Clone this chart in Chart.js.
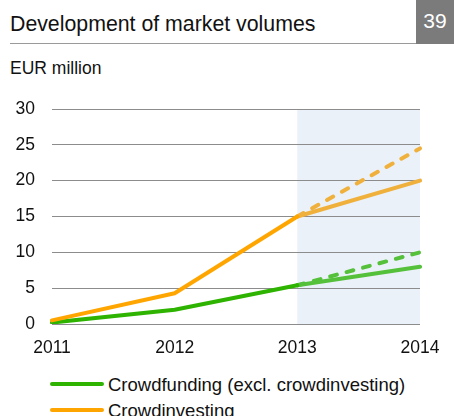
<!DOCTYPE html>
<html>
<head>
<meta charset="utf-8">
<script src="https://cdn.jsdelivr.net/npm/chart.js@4"></script>
<style>
  html, body { margin: 0; padding: 0; background: #fff; }
  body { width: 454px; height: 416px; position: relative; overflow: hidden;
         font-family: "Liberation Sans", Arial, sans-serif; color: #111; }
  #title { position: absolute; left: 10px; top: 12px; font-size: 21.3px; line-height: 24px; white-space: nowrap; }
  #rule { position: absolute; left: 10px; top: 43px; width: 406px; height: 1px; background: #9a9a9a; }
  #page { position: absolute; left: 416px; top: 0; width: 38px; height: 44px; background: #7b7b7b;
          color: #fff; font-size: 21px; line-height: 41px; text-align: center; }
  #unit { position: absolute; left: 10px; top: 58px; font-size: 17.5px; line-height: 20px; }
  #wrap { position: absolute; left: 0; top: 90px; width: 454px; height: 270px; }
  .key { position: absolute; left: 50px; font-size: 18.5px; height: 22px; line-height: 22px; }
  .key i { position: absolute; left: 0; top: 8px; width: 54px; height: 4px; border-radius: 2px; }
  .key span { position: absolute; left: 58px; white-space: nowrap; }
</style>
</head>
<body>
<div id="title">Development of market volumes</div>
<div id="rule"></div>
<div id="page">39</div>
<div id="unit">EUR million</div>
<div id="wrap"><canvas id="myChart"></canvas></div>
<div class="key" style="top:374px"><i style="background:#2eb400"></i><span>Crowdfunding (excl. crowdinvesting)</span></div>
<div class="key" style="top:400px"><i style="background:#ffa500"></i><span>Crowdinvesting</span></div>

<script>
const years = ['2011', '2012', '2013', '2014'];
const yTicks = [0, 5, 10, 15, 20, 25, 30];

// actual volumes 2011-2013
const crowdfunding = [0.2, 2.0, 5.4];
const crowdinvesting = [0.5, 4.3, 15.0];

// 2014 forecast: [base, high]
const crowdfunding2014 = [8, 10];
const crowdinvesting2014 = [20, 24.5];

function actual(vals) {
  return vals.concat([null]);
}
function forecast(from, to) {
  return [null, null, from, to];
}

const last = arr => arr[arr.length - 1];

// light blue band over the forecast year
const forecastBand = {
  id: 'forecastBand',
  beforeDraw(chart) {
    const ctx = chart.ctx;
    const area = chart.chartArea;
    const x0 = chart.scales.x.getPixelForValue(2);
    ctx.save();
    ctx.fillStyle = '#eaf1f9';
    ctx.fillRect(x0, area.top, area.right - x0, area.bottom - area.top);
    ctx.restore();
  }
};

function line(data, color, dashed) {
  return {
    data: data,
    borderColor: color,
    backgroundColor: color,
    borderWidth: 4,
    borderCapStyle: 'round',
    borderJoinStyle: 'round',
    borderDash: dashed ? [7, 10] : [],
    pointRadius: 0,
    pointHoverRadius: 0,
    fill: false,
    tension: 0,
    spanGaps: false
  };
}

const ctx = document.getElementById('myChart').getContext('2d');
const myChart = new Chart(ctx, {
  type: 'line',
  data: {
    labels: years,
    datasets: [
      line(actual(crowdinvesting), '#ffa500'),
      line(forecast(last(crowdinvesting), crowdinvesting2014[0]), '#f0b03c'),
      line(forecast(last(crowdinvesting), crowdinvesting2014[1]), '#f0b03c', true),
      line(actual(crowdfunding), '#2eb400'),
      line(forecast(last(crowdfunding), crowdfunding2014[0]), '#55c03a'),
      line(forecast(last(crowdfunding), crowdfunding2014[1]), '#55c03a', true)
    ]
  },
  options: {
    responsive: true,
    maintainAspectRatio: false,
    animation: false,
    layout: { padding: { top: 19, right: 34, bottom: 0, left: 0 } },
    plugins: { legend: { display: false }, tooltip: { enabled: false } },
    scales: {
      x: {
        offset: false,
        grid: { display: false, drawTicks: false },
        border: { display: false },
        ticks: { color: '#111', padding: 14, maxRotation: 0, autoSkip: false,
                 font: { family: 'Liberation Sans', size: 17.5 } },
        afterFit(scale) { scale.height = 36; }
      },
      y: {
        min: 0,
        max: 30,
        afterBuildTicks(scale) { scale.ticks = yTicks.map(v => ({ value: v })); },
        grid: { color: '#8c8c8c', lineWidth: 1, drawTicks: false },
        border: { display: false },
        ticks: { color: '#111', padding: 17,
                 font: { family: 'Liberation Sans', size: 17.5 } },
        afterFit(scale) {
          scale.width = 52;
          // top/bottom spacing comes from the layout padding
          scale.paddingTop = 0;
          scale.paddingBottom = 0;
        }
      }
    }
  },
  plugins: [forecastBand]
});
</script>
</body>
</html>
